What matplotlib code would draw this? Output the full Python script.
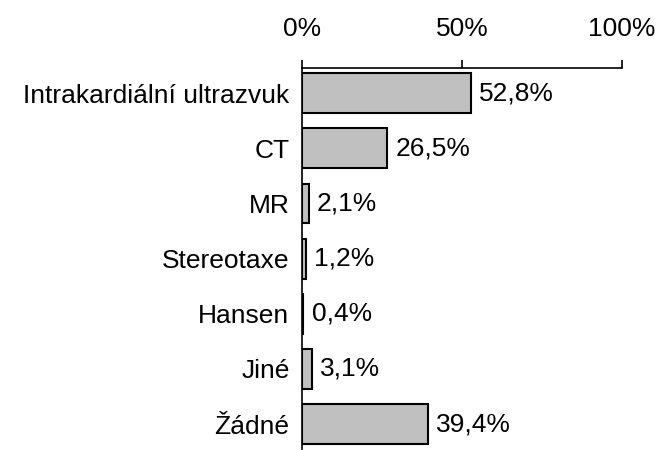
import matplotlib
matplotlib.use('Agg')
import matplotlib.pyplot as plt
from matplotlib.ticker import FuncFormatter

categories = ['Intrakardiální ultrazvuk', 'CT', 'MR', 'Stereotaxe', 'Hansen', 'Jiné', 'Žádné']
values = [52.8, 26.5, 2.1, 1.2, 0.4, 3.1, 39.4]
ticks = [0, 50, 100]

plt.rcParams['font.family'] = ['Liberation Sans', 'DejaVu Sans']

fig = plt.figure(figsize=(6.6, 4.5), dpi=100)
ax = fig.add_axes([302/660, 1/450, 320/660, 381/450])

pos = list(range(len(categories)))
ax.barh(pos, values, height=0.72, color='#c0c0c0', edgecolor='black', linewidth=1.5)

for p, v in zip(pos, values):
    ax.annotate(f'{v:.1f}%'.replace('.', ','), (v, p), xytext=(6, 0),
                textcoords='offset points', va='center', ha='left', fontsize=19)

ax.set_xlim(0, 100)
ax.set_ylim(6.45, -0.455)
ax.set_yticks(pos)
ax.set_yticklabels(categories, fontsize=19)
ax.set_xticks(ticks)
ax.xaxis.set_major_formatter(FuncFormatter(lambda x, _: f'{x:.0f}%'))
ax.xaxis.tick_top()
ax.tick_params(axis='x', direction='out', length=5.5, width=1.2, labelsize=19, pad=14)
ax.tick_params(axis='y', length=0, pad=9)

for s in ['right', 'bottom']:
    ax.spines[s].set_visible(False)
ax.spines['top'].set_linewidth(1.2)
ax.spines['left'].set_linewidth(1.2)

fig.savefig('out.png', dpi=100)
